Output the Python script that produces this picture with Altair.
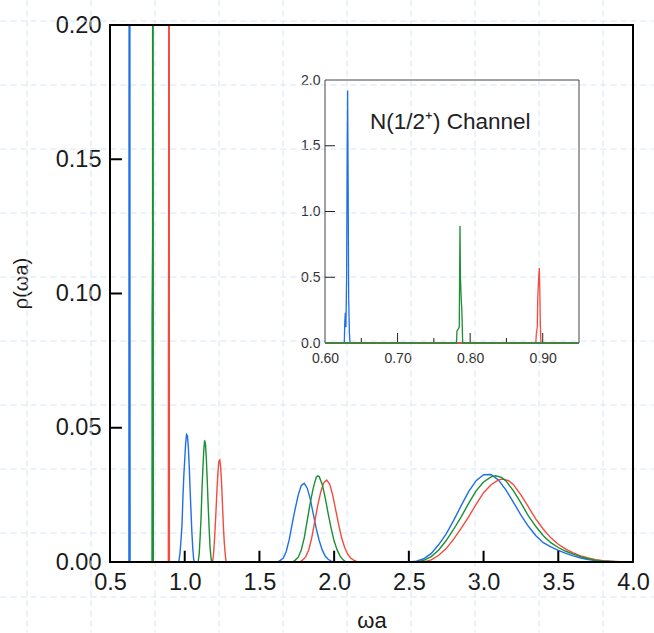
import altair as alt
import pandas as pd

FONT = "Liberation Sans"
BLUE = "#1f6fe8"
GREEN = "#1b8f33"
RED = "#f34b3d"
GRID = "#d6e4f7"

# ---- data ----
blue_x = [0.50, 0.60, 0.6266, 0.6272, 0.6280, 0.6288, 0.6298, 0.6306, 0.6312, 0.6318, 0.6326, 0.6336, 0.6345,
          0.95, 0.960, 0.968, 0.975, 0.982, 0.988, 0.994, 1.000, 1.006, 1.012, 1.018, 1.024, 1.030, 1.036, 1.042,
          1.048, 1.054, 1.060, 1.064,
          1.62, 1.64, 1.66, 1.68, 1.70, 1.72, 1.74, 1.76, 1.78, 1.80, 1.82, 1.84, 1.86, 1.88, 1.90, 1.92, 1.94,
          1.96, 1.98, 2.00,
          2.50, 2.55, 2.60, 2.65, 2.70, 2.75, 2.80, 2.85, 2.90, 2.95, 3.00, 3.05, 3.10, 3.15, 3.20, 3.25, 3.30,
          3.35, 3.40, 3.45, 3.50, 3.55, 3.60, 3.65, 3.70, 3.75, 3.80, 3.85, 3.90, 4.00]
blue_y = [0, 0, 0, 0.15, 0.23, 0.12, 0.5, 1.5, 1.92, 1.3, 0.35, 0.08, 0,
          0, 0, 0.003, 0.008, 0.014, 0.024, 0.032, 0.038, 0.044, 0.0475, 0.047, 0.043, 0.036, 0.027, 0.019,
          0.011, 0.005, 0.001, 0,
          0, 0.0006, 0.0015, 0.004, 0.0085, 0.0145, 0.020, 0.025, 0.0285, 0.0293, 0.0275, 0.0235, 0.018,
          0.0125, 0.008, 0.0045, 0.0022, 0.001, 0.0003, 0,
          0, 0.0003, 0.0012, 0.0032, 0.0065, 0.0105, 0.0155, 0.021, 0.0262, 0.0303, 0.0325, 0.0326, 0.0305,
          0.0268, 0.0222, 0.0175, 0.0133, 0.0098, 0.0072, 0.0056, 0.0043, 0.0032, 0.0023, 0.0015, 0.0009,
          0.0005, 0.0003, 0.0001, 0, 0]

green_x = [0.60, 0.7812, 0.7818, 0.7850, 0.7860, 0.7866, 0.7878, 0.7886, 0.7897, 0.95,
           1.090, 1.097, 1.103, 1.109, 1.115, 1.121, 1.127, 1.133, 1.139, 1.145, 1.151, 1.157, 1.163, 1.169,
           1.175, 1.180,
           1.72, 1.74, 1.76, 1.78, 1.80, 1.82, 1.84, 1.86, 1.88, 1.89, 1.90, 1.92, 1.94, 1.96, 1.98, 2.00,
           2.02, 2.04, 2.06, 2.08,
           2.55, 2.60, 2.65, 2.70, 2.75, 2.80, 2.85, 2.90, 2.95, 3.00, 3.05, 3.08, 3.12, 3.15, 3.20, 3.25,
           3.30, 3.35, 3.40, 3.45, 3.50, 3.55, 3.60, 3.65, 3.70, 3.75, 3.80, 3.85, 3.92, 4.00]
green_y = [0, 0, 0.09, 0.12, 0.89, 0.5, 0.32, 0.25, 0, 0,
           0, 0.003, 0.009, 0.016, 0.026, 0.034, 0.041, 0.0453, 0.044, 0.038, 0.030, 0.021, 0.013, 0.006,
           0.002, 0,
           0, 0.0007, 0.0018, 0.0045, 0.009, 0.0155, 0.022, 0.0275, 0.0315, 0.0321, 0.0318, 0.029, 0.024,
           0.018, 0.0125, 0.0078, 0.0045, 0.0022, 0.0008, 0,
           0, 0.0006, 0.002, 0.0045, 0.008, 0.0122, 0.0168, 0.0218, 0.0265, 0.0298, 0.0317, 0.0321, 0.0315,
           0.0302, 0.0265, 0.022, 0.0172, 0.0132, 0.0098, 0.0072, 0.0054, 0.004, 0.0029, 0.002, 0.0012,
           0.0007, 0.0004, 0.0002, 0, 0]

red_x = [0.60, 0.8905, 0.8912, 0.8925, 0.8932, 0.8945, 0.8953, 0.8960, 0.8967, 0.8975, 0.95,
         1.186, 1.193, 1.199, 1.205, 1.211, 1.217, 1.223, 1.229, 1.235, 1.241, 1.247, 1.253, 1.259, 1.265,
         1.271, 1.277,
         1.77, 1.79, 1.81, 1.83, 1.85, 1.87, 1.89, 1.91, 1.93, 1.95, 1.97, 1.99, 2.01, 2.03, 2.05, 2.07, 2.09,
         2.11, 2.13, 2.15, 2.18,
         2.60, 2.65, 2.70, 2.75, 2.80, 2.85, 2.90, 2.95, 3.00, 3.05, 3.10, 3.13, 3.17, 3.20, 3.25, 3.30, 3.35,
         3.40, 3.45, 3.50, 3.55, 3.60, 3.65, 3.70, 3.75, 3.80, 3.85, 3.95, 4.00]
red_y = [0, 0, 0.07, 0.12, 0.35, 0.5, 0.57, 0.4, 0.15, 0, 0,
         0, 0.003, 0.008, 0.014, 0.021, 0.028, 0.034, 0.0375, 0.038, 0.035, 0.029, 0.021, 0.013, 0.007,
         0.003, 0,
         0, 0.0008, 0.002, 0.0045, 0.009, 0.015, 0.021, 0.026, 0.0295, 0.0305, 0.029, 0.025, 0.0195, 0.014,
         0.009, 0.0055, 0.003, 0.0015, 0.0007, 0.0002, 0,
         0, 0.0008, 0.0025, 0.005, 0.0085, 0.0125, 0.0168, 0.0215, 0.0258, 0.0288, 0.0306, 0.0309, 0.0302,
         0.0288, 0.025, 0.0205, 0.016, 0.0122, 0.009, 0.0066, 0.0048, 0.0034, 0.0023, 0.0015, 0.0009,
         0.0005, 0.0003, 0, 0]

main_x_labels = [0.5, 1.0, 1.5, 2.0, 2.5, 3.0, 3.5, 4.0]
main_y_labels = [0.0, 0.05, 0.10, 0.15, 0.20]
main_x_ticks = [1.0, 1.5, 2.0, 2.5, 3.0, 3.5]
main_y_ticks = [0.05, 0.10, 0.15]
inset_x_labels = [0.60, 0.70, 0.80, 0.90]
inset_y_labels = [0.0, 0.5, 1.0, 1.5, 2.0]
inset_x_major = [0.70, 0.80, 0.90]
inset_x_minor = [0.65, 0.75, 0.85]
inset_y_ticks = [0.5, 1.0, 1.5]
inset_title = "N(1/2⁺) Channel"
grid_idx = list(range(10))

# ---- tables ----
rows = []
for name, xs, ys in [("blue", blue_x, blue_y), ("red", red_x, red_y), ("green", green_x, green_y)]:
    for x, y in zip(xs, ys, strict=True):
        rows.append({"series": name, "x": x, "y": y})
df = pd.DataFrame(rows)
colors = {"blue": BLUE, "red": RED, "green": GREEN}
one = pd.DataFrame({"a": [0]})


# ---- scales (every layer owns its scale; identical specs give identical mappings) ----
def main_xs():
    return alt.Scale(domain=[0.5, 4.0], nice=False, zero=False)


def main_ys():
    return alt.Scale(domain=[0, 0.2], nice=False, zero=False)


def ins_xs():
    return alt.Scale(domain=[0.6, 0.95], range=[215, 469], nice=False, zero=False)


def ins_ys():
    return alt.Scale(domain=[0, 2.0], range=[318, 55], nice=False, zero=False)


grid_xs = alt.Scale(domain=[0, 9], range=[-83, 493], nice=False, zero=False)
grid_ys = alt.Scale(domain=[0, 9], range=[-4, 572], nice=False, zero=False)

layers = []

# ---- background grid ----
layers.append(alt.Chart(pd.DataFrame({"g": grid_idx})).mark_rule(
    color=GRID, strokeWidth=1, strokeDash=[6, 4]
).encode(x=alt.X("g:Q", scale=grid_xs, axis=None), y=alt.value(-24.5), y2=alt.value(607.5)))
layers.append(alt.Chart(pd.DataFrame({"g": grid_idx})).mark_rule(
    color=GRID, strokeWidth=1, strokeDash=[6, 4]
).encode(y=alt.Y("g:Q", scale=grid_ys, axis=None), x=alt.value(-109.5), x2=alt.value(543.5)))

# ---- main plot ----
x_axis_main = alt.Axis(orient="bottom", values=main_x_labels, format=".1f", title="ωa", ticks=False,
                       domain=False, grid=False, labelFlush=False, labelFont=FONT, labelFontSize=23.5,
                       labelColor="#1a1a1a", labelPadding=8, titleFont=FONT, titleFontSize=22,
                       titleFontWeight="normal", titleColor="#1a1a1a", titleBaseline="alphabetic",
                       titleY=65)
y_axis_main = alt.Axis(orient="left", values=main_y_labels, format=".2f", title="ρ(ωa)", ticks=False,
                       domain=False, grid=False, labelFlush=False, labelFont=FONT, labelFontSize=23.5,
                       labelColor="#1a1a1a", labelPadding=9, titleFont=FONT, titleFontSize=20,
                       titleFontWeight="normal", titleColor="#1a1a1a", titlePadding=24, titleY=258)

for i, name in enumerate(["blue", "red", "green"]):
    layers.append(
        alt.Chart(df).transform_filter(alt.datum.series == name).mark_line(
            color=colors[name], strokeWidth=1.4, clip=True
        ).encode(
            x=alt.X("x:Q", scale=main_xs(), axis=x_axis_main if i == 0 else None),
            y=alt.Y("y:Q", scale=main_ys(), axis=y_axis_main if i == 0 else None),
        )
    )
layers.append(alt.Chart(pd.DataFrame({"x": main_x_ticks})).mark_rule(color="black", strokeWidth=2).encode(
    x=alt.X("x:Q", scale=main_xs(), axis=None),
    y=alt.YDatum(0, scale=main_ys(), axis=None), y2=alt.Y2Datum(0.0042)
))
layers.append(alt.Chart(pd.DataFrame({"y": main_y_ticks})).mark_rule(color="black", strokeWidth=2).encode(
    y=alt.Y("y:Q", scale=main_ys(), axis=None),
    x=alt.XDatum(0.5, scale=main_xs(), axis=None), x2=alt.X2Datum(0.58)
))
layers.append(alt.Chart(one).mark_rect(fillOpacity=0, stroke="black", strokeWidth=2).encode(
    x=alt.XDatum(0.5, scale=main_xs(), axis=None), x2=alt.X2Datum(4.0),
    y=alt.YDatum(0, scale=main_ys(), axis=None), y2=alt.Y2Datum(0.2)
))

# ---- inset ----
x_axis_ins = alt.Axis(orient="bottom", offset=-219, values=inset_x_labels, format=".2f", title=None,
                      ticks=False, domain=False, grid=False, labelFlush=False, labelFont=FONT,
                      labelFontSize=14, labelColor="#333333", labelPadding=8)
y_axis_ins = alt.Axis(orient="left", offset=-215, values=inset_y_labels, format=".1f", title=None,
                      ticks=False, domain=False, grid=False, labelFlush=False, labelFont=FONT,
                      labelFontSize=14, labelColor="#333333", labelPadding=5)
layers.append(alt.Chart(one).mark_rect(fillOpacity=0, stroke="#444444", strokeWidth=1).encode(
    x=alt.XDatum(0.6, scale=ins_xs(), axis=None), x2=alt.X2Datum(0.95),
    y=alt.YDatum(0, scale=ins_ys(), axis=None), y2=alt.Y2Datum(2.0)
))
layers.append(alt.Chart(pd.DataFrame({"x": inset_x_major})).mark_rule(color="#222", strokeWidth=1).encode(
    x=alt.X("x:Q", scale=ins_xs(), axis=None),
    y=alt.YDatum(0, scale=ins_ys(), axis=None), y2=alt.Y2Datum(0.076)
))
layers.append(alt.Chart(pd.DataFrame({"x": inset_x_minor})).mark_rule(color="#222", strokeWidth=1).encode(
    x=alt.X("x:Q", scale=ins_xs(), axis=None),
    y=alt.YDatum(0, scale=ins_ys(), axis=None), y2=alt.Y2Datum(0.038)
))
layers.append(alt.Chart(pd.DataFrame({"y": inset_y_ticks})).mark_rule(color="#222", strokeWidth=1).encode(
    y=alt.Y("y:Q", scale=ins_ys(), axis=None),
    x=alt.XDatum(0.6, scale=ins_xs(), axis=None), x2=alt.X2Datum(0.6138)
))
for i, name in enumerate(["blue", "red", "green"]):
    layers.append(
        alt.Chart(df).transform_filter(
            (alt.datum.series == name) & (alt.datum.x >= 0.6) & (alt.datum.x <= 0.95)
        ).mark_line(color=colors[name], strokeWidth=1.3).encode(
            x=alt.X("x:Q", scale=ins_xs(), axis=x_axis_ins if i == 0 else None),
            y=alt.Y("y:Q", scale=ins_ys(), axis=y_axis_ins if i == 0 else None),
        )
    )
layers.append(alt.Chart(one).mark_text(
    text=inset_title, align="left", baseline="middle", font=FONT, fontSize=22.5, color="#222222"
).encode(x=alt.XDatum(0.662, scale=ins_xs(), axis=None), y=alt.YDatum(1.683, scale=ins_ys(), axis=None)))

chart = alt.layer(*layers).resolve_scale(
    x="independent", y="independent"
).properties(width=523, height=537, padding=0, background="white").configure_view(strokeWidth=0)

chart.save("out.html", embed_options={"renderer": "svg", "actions": False})
